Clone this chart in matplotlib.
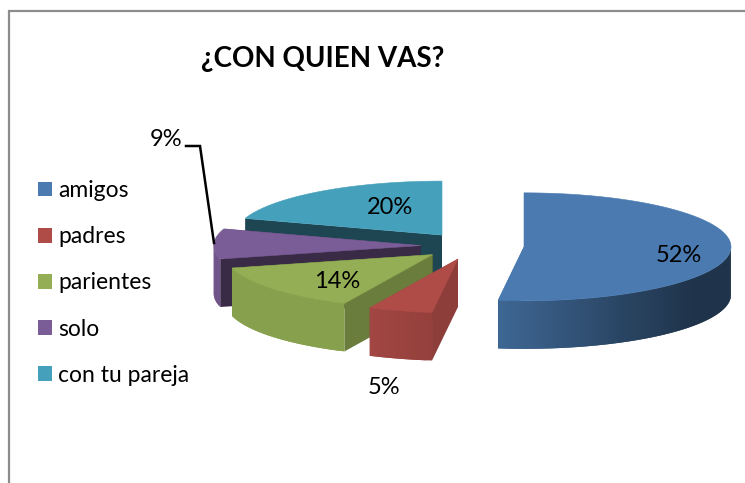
# coding=utf-8
from matplotlib import pyplot as plt
from matplotlib.patches import Patch, Polygon
import numpy as np

categories = ['amigos', 'padres', 'parientes', 'solo', 'con tu pareja']
values = [52, 5, 14, 9, 20]
title = '¿CON QUIEN VAS?'

colors = ['#4a7ab0', '#b04c48', '#93ae54', '#7a5c96', '#45a0bb']

# pie geometry, in pixels of the picture
cx, cy = 472.4, 246.0
rx, ry = 207.0, 54.0
depth = 48.0
explode = 51.7


def shade(color, k):
    rgb = np.array(plt.matplotlib.colors.to_rgb(color))
    return tuple(rgb * k)


def rimLight(a):
    return np.interp(a, [90, 125, 150, 187, 205, 255, 290], [0.42, 0.42, 0.55, 0.84, 0.92, 0.92, 0.9])


def cutLight(a):
    return np.interp(a, [187, 205, 255, 288], [0.8, 0.72, 0.47, 0.44])


def point(x0, y0, a):
    t = np.radians(a)
    return x0 + rx * np.sin(t), y0 - ry * np.cos(t)


def drawWedge(ax, start, end, color):
    mid = np.radians((start + end) / 2)
    x0 = cx + explode * np.sin(mid)
    y0 = cy - explode * ry / rx * np.cos(mid)

    # cut faces
    for a in (end, start):
        x1, y1 = point(x0, y0, a)
        quad = [(x0, y0), (x1, y1), (x1, y1 + depth), (x0, y0 + depth)]
        ax.add_patch(Polygon(quad, closed=True, fc=shade(color, cutLight(a)), ec='none'))

    # outer rim, only the part turned to the viewer
    rim_start = max(start, 90)
    rim_end = min(end, 270)
    if rim_end > rim_start:
        steps = np.arange(rim_start, rim_end, 1.5)
        steps = np.append(steps, rim_end)
        for i in range(len(steps) - 1):
            # each strip runs under the next one, so no seams show
            over = min(steps[i + 1] + 1.5, rim_end)
            arc = np.linspace(steps[i], over, 5)
            xs, ys = point(x0, y0, arc)
            k = rimLight((steps[i] + steps[i + 1]) / 2)
            strip = list(zip(xs, ys)) + list(zip(xs[::-1], ys[::-1] + depth))
            ax.add_patch(Polygon(strip, closed=True, fc=shade(color, k), ec='none'))

    # top face
    arc = np.linspace(start, end, 120)
    xs, ys = point(x0, y0, arc)
    top = [(x0, y0)] + list(zip(xs, ys))
    ax.add_patch(Polygon(top, closed=True, fc=color, ec=color, lw=0.4))


fig = plt.figure(figsize=(7.45, 4.83), dpi=100)
ax = fig.add_axes([0, 0, 1, 1])
ax.set_xlim(0, 745)
ax.set_ylim(483, 0)
ax.axis('off')

plt.rcParams['font.family'] = ['Lato', 'DejaVu Sans']

# chart frame
ax.plot([9, 9, 745], [483, 10.5, 10.5], color='#8c8c8c', lw=1.6, solid_joinstyle='miter')

ax.text(323, 59, title, fontsize=20, fontweight='bold', ha='center', va='center', color='black')

# angles run clockwise from twelve o'clock
edges = np.cumsum([0] + values) / float(sum(values)) * 360
for i in [4, 3, 2, 1, 0]:
    drawWedge(ax, edges[i], edges[i + 1], colors[i])

# percentage labels
label_pos = [(679, 255), (384, 387), (337, 282), (166, 140), (390, 207)]
for v, (lx, ly) in zip(values, label_pos):
    ax.text(lx, ly, '%d%%' % v, fontsize=17, ha='center', va='center', color='black')

# leader line of the 9% label
ax.plot([186, 200, 214], [146, 146, 243], color='black', lw=1.8, solid_joinstyle='miter')

handles = [Patch(fc=c, ec='none') for c in colors]
ax.legend(handles, categories, loc='upper left', bbox_to_anchor=(38 / 745.0, 1 - 180 / 483.0),
          bbox_transform=ax.transAxes, frameon=False, fontsize=16.5, handlelength=0.62,
          handleheight=0.62, handletextpad=0.25, labelspacing=1.1, borderpad=0, borderaxespad=0)

plt.savefig('out.png', dpi=100)
